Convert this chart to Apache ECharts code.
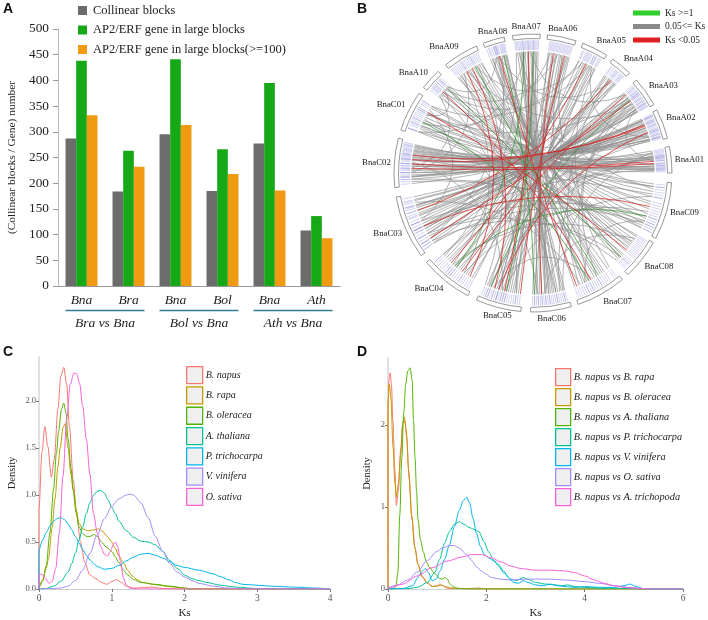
<!DOCTYPE html>
<html>
<head>
<meta charset="utf-8">
<script src="https://cdn.jsdelivr.net/npm/echarts@6.0.0/dist/echarts.min.js"></script>
<style>
  html, body { margin: 0; padding: 0; background: #fff; }
  #main { width: 708px; height: 620px; }
</style>
</head>
<body>
<div id="main"></div>
<script>
// ---------- panel A : collinear blocks ----------
var speciesCats = ['Bna', 'Bra', 'Bna', 'Bol', 'Bna', 'Ath'];
var compareGroups = ['Bra vs Bna', 'Bol vs Bna', 'Ath vs Bna'];
var collinearBlocks = [287, 184, 295, 185, 277, 108];
var geneLarge = [438, 263, 441, 266, 395, 136];
var geneLarge100 = [332, 232, 313, 218, 186, 93];

// ---------- panel B : circos (angles in degrees, counter-clockwise from 3 o'clock) ----------
var chrNames = ['BnaA01', 'BnaA02', 'BnaA03', 'BnaA04', 'BnaA05', 'BnaA06', 'BnaA07', 'BnaA08', 'BnaA09', 'BnaA10',
  'BnaC01', 'BnaC02', 'BnaC03', 'BnaC04', 'BnaC05', 'BnaC06', 'BnaC07', 'BnaC08', 'BnaC09'];
var chrStart = [0, 14.5, 29.5, 46, 58, 72, 87, 102, 114, 133, 145, 165.5, 190, 220, 246, 269, 289, 313, 332];
var chrEnd = [11, 27, 42, 55, 69, 84, 98.5, 111, 129, 142, 162, 186, 216.5, 242, 265, 286, 310, 330, 356];

// links: [chr index, position in chr (0-1), chr index, position in chr (0-1)]
var grayLinks = [
  [0,.1,10,.15],[0,.25,10,.3],[0,.4,10,.45],[0,.55,10,.6],[0,.7,10,.72],[0,.85,10,.88],[0,.3,11,.5],[0,.6,11,.55],
  [1,.05,11,.1],[1,.15,11,.2],[1,.25,11,.3],[1,.35,11,.38],[1,.45,11,.42],[1,.55,11,.5],[1,.6,11,.62],[1,.7,11,.7],
  [1,.8,11,.78],[1,.9,11,.85],[1,.95,11,.95],
  [2,.05,12,.1],[2,.15,12,.2],[2,.25,12,.25],[2,.35,12,.35],[2,.45,12,.4],[2,.55,12,.5],[2,.6,12,.6],[2,.7,12,.65],
  [2,.8,12,.75],[2,.9,12,.85],[2,.95,12,.95],[2,.5,16,.4],[2,.75,16,.6],
  [3,.1,13,.1],[3,.25,13,.3],[3,.4,13,.45],[3,.55,13,.6],[3,.7,13,.75],[3,.85,13,.9],
  [4,.1,14,.1],[4,.2,14,.2],[4,.35,14,.3],[4,.5,14,.45],[4,.6,14,.6],[4,.75,13,.2],[4,.9,13,.5],
  [5,.1,14,.7],[5,.2,14,.8],[5,.3,14,.9],[5,.45,15,.05],[5,.6,15,.15],[5,.75,15,.25],[5,.9,15,.3],
  [6,.05,15,.4],[6,.15,15,.45],[6,.25,15,.5],[6,.35,15,.55],[6,.5,15,.6],[6,.6,15,.7],[6,.7,15,.75],[6,.8,15,.85],[6,.9,15,.95],
  [7,.1,16,.7],[7,.25,16,.8],[7,.4,16,.9],[7,.55,17,.1],[7,.7,17,.25],[7,.85,17,.4],[7,.95,17,.5],
  [8,.05,17,.6],[8,.15,17,.7],[8,.25,17,.8],[8,.35,17,.9],[8,.45,18,.05],[8,.55,18,.15],[8,.65,18,.25],[8,.75,18,.35],
  [8,.85,18,.45],[8,.95,18,.55],
  [9,.1,18,.6],[9,.3,18,.7],[9,.5,18,.8],[9,.7,18,.9],[9,.9,18,.95],
  [11,.05,0,.05],[11,.15,0,.2],[11,.25,1,.3],[11,.35,0,.8],[11,.65,1,.5],[11,.75,0,.95],[11,.9,18,.1],
  [12,.3,1,.4],[12,.45,2,.3],[12,.55,1,.75],[12,.7,2,.7],[12,.8,18,.3],[12,.9,17,.2],
  [0,.5,2,.2],[1,.2,4,.3],[2,.4,8,.6],[3,.3,7,.5],[4,.7,8,.3],[5,.5,9,.4],[6,.4,2,.85],[7,.6,9,.2],[8,.1,0,.35],[9,.6,4,.4],
  [10,.2,12,.5],[10,.5,15,.2],[10,.8,17,.3],[11,.45,14,.5],[12,.15,16,.2],[13,.4,17,.75],[13,.7,18,.4],[14,.25,16,.5],
  [14,.55,18,.7],[15,.35,17,.85],[16,.3,18,.2],
  [0,.65,13,.55],[1,.75,14,.35],[2,.2,15,.8],[3,.6,16,.15],[4,.4,12,.6],[5,.15,13,.8],[6,.2,14,.15],[6,.75,16,.3],
  [7,.3,12,.85],[8,.7,11,.7],[9,.4,10,.4],[9,.8,11,.6],[5,.8,10,.65],[6,.55,10,.9],[4,.85,10,.1],[3,.15,11,.8],
  [2,.65,10,.35],[1,.85,12,.2],[0,.9,15,.9],[8,.5,16,.55],[7,.8,15,.65],[5,.35,17,.15],[6,.85,18,.85],[4,.15,16,.95],
  [11,.08,1,.12],[11,.12,0,.15],[11,.18,1,.22],[11,.22,0,.3],[11,.28,1,.35],[11,.33,0,.6],[11,.55,1,.58],[11,.7,0,.7],
  [11,.8,1,.88],[11,.85,18,.05],
  [12,.05,2,.08],[12,.12,1,.9],[12,.22,2,.18],[12,.38,2,.42],[12,.5,18,.2],[12,.65,2,.62],[12,.75,17,.05],[12,.95,18,.15],
  [10,.1,0,.2],[10,.35,1,.1],[10,.55,0,.65],[10,.7,18,.9],[10,.9,17,.55],
  [6,.1,14,.4],[6,.3,16,.05],[6,.45,15,.2],[6,.65,14,.85],[5,.05,15,.5],[5,.4,16,.25],[5,.55,14,.65],[5,.65,13,.95],
  [7,.05,15,.9],[7,.15,16,.35],[7,.5,13,.4],[8,.2,14,.05],[8,.8,13,.7],[9,.25,15,.7],[9,.75,14,.85],
  [3,.2,14,.75],[3,.5,12,.9],[4,.3,15,.4],[4,.65,12,.75],[2,.1,13,.25],[2,.3,14,.5],[1,.1,13,.1],[0,.15,12,.6],[0,.75,14,.15],
  [16,.6,8,.9],[16,.75,7,.6],[17,.65,9,.65],[17,.95,10,.75],[18,.75,11,.4],[15,.1,3,.8],[14,.4,5,.85],[13,.15,6,.95]
];
var redLinks = [
  [11,.3,1,.65],[11,.4,1,.7],[11,.5,0,.5],[11,.6,0,.4],[6,.45,14,.55],[8,.4,14,.3],[8,.6,13,.85],[12,.85,2,.55],
  [2,.85,13,.65],[4,.55,13,.35],[5,.7,15,.3],[9,.55,16,.45],[7,.45,16,.1],[3,.45,12,.3],[10,.3,17,.45],[5,.25,14,.95],
  [12,.6,18,.5],[1,.4,14,.4]
];
var greenLinks = [
  [6,.25,14,.6],[9,.2,17,.2],[8,.3,16,.65],[7,.2,15,.1],[10,.6,16,.4],[6,.65,13,.5],[2,.6,14,.2],[18,.3,13,.45]
];
var ksClasses = ['Ks >=1', '0.05<= Ks <1', 'Ks <0.05'];

// ---------- panel C : Ks density per species ----------
var speciesC = ['B. napus', 'B. rapa', 'B. oleracea', 'A. thaliana', 'P. trichocarpa', 'V. vinifera', 'O. sativa'];
var napusC = [[0,0],[0,0.85],[0.04,1.45],[0.08,1.73],[0.12,1.52],[0.17,1.19],[0.21,1.38],[0.26,1.92],[0.3,2.26],[0.34,2.36],
  [0.38,2.18],[0.42,1.72],[0.47,1.16],[0.52,0.78],[0.57,0.5],[0.63,0.28],[0.7,0.15],[0.78,0.11],[0.86,0.07],[0.93,0.05],
  [1.0,0.08],[1.07,0.1],[1.13,0.07],[1.2,0.03],[1.3,0.01],[1.45,0.015],[1.55,0.02],[1.7,0.005],[2.0,0],[4,0]];
var rapaC = [[0,0],[0,0.03],[0.05,0.1],[0.1,0.22],[0.13,0.32],[0.18,0.65],[0.22,0.96],[0.26,1.3],[0.29,1.5],[0.33,1.72],
  [0.36,1.76],[0.4,1.5],[0.44,1.22],[0.47,1.06],[0.51,0.85],[0.55,0.7],[0.6,0.64],[0.68,0.62],[0.76,0.63],[0.82,0.64],
  [0.88,0.61],[0.94,0.56],[1.0,0.5],[1.05,0.43],[1.1,0.35],[1.16,0.28],[1.22,0.2],[1.28,0.14],[1.35,0.1],[1.42,0.07],
  [1.6,0.045],[1.8,0.025],[2.0,0.01],[2.1,0],[4,0]];
var oleraceaC = [[0,0],[0,0.02],[0.05,0.08],[0.1,0.25],[0.15,0.6],[0.2,1.06],[0.24,1.45],[0.27,1.68],[0.31,1.92],[0.34,1.98],
  [0.37,1.88],[0.4,1.6],[0.44,1.28],[0.47,1.05],[0.51,0.82],[0.55,0.66],[0.6,0.59],[0.65,0.56],[0.7,0.56],[0.76,0.58],
  [0.8,0.56],[0.86,0.5],[0.92,0.45],[1.0,0.4],[1.05,0.34],[1.1,0.28],[1.16,0.2],[1.22,0.15],[1.3,0.1],[1.4,0.07],
  [1.6,0.05],[1.8,0.03],[2.0,0.01],[2.1,0],[4,0]];
var thalianaC = [[0,0],[0.1,0.005],[0.2,0.03],[0.3,0.08],[0.4,0.18],[0.45,0.27],[0.5,0.38],[0.55,0.52],[0.6,0.66],[0.65,0.8],
  [0.7,0.92],[0.75,1.0],[0.8,1.04],[0.85,1.05],[0.9,1.02],[0.95,0.95],[1.0,0.87],[1.05,0.8],[1.1,0.72],[1.2,0.62],
  [1.3,0.55],[1.4,0.51],[1.5,0.5],[1.6,0.47],[1.7,0.4],[1.8,0.3],[1.9,0.22],[2.0,0.15],[2.1,0.11],[2.2,0.09],[2.3,0.07],
  [2.5,0.04],[2.7,0.02],[3.0,0.005],[3.3,0],[4,0]];
var trichoC = [[0,0],[0,0.42],[0.05,0.52],[0.1,0.6],[0.15,0.67],[0.2,0.72],[0.25,0.75],[0.3,0.76],[0.35,0.74],[0.4,0.69],
  [0.45,0.63],[0.5,0.56],[0.55,0.49],[0.6,0.42],[0.65,0.36],[0.7,0.31],[0.75,0.27],[0.8,0.24],[0.9,0.21],[1.0,0.22],
  [1.1,0.25],[1.2,0.3],[1.3,0.34],[1.4,0.37],[1.5,0.38],[1.6,0.36],[1.7,0.33],[1.8,0.29],[1.9,0.25],[2.0,0.23],[2.2,0.2],
  [2.4,0.16],[2.5,0.13],[2.6,0.1],[2.7,0.07],[2.8,0.05],[3.0,0.04],[3.2,0.03],[3.5,0.02],[3.8,0.01],[4,0]];
var viniferaC = [[0,0],[0.2,0.005],[0.3,0.01],[0.4,0.03],[0.5,0.09],[0.6,0.2],[0.7,0.38],[0.8,0.58],[0.9,0.75],[1.0,0.88],
  [1.1,0.96],[1.2,1.0],[1.25,1.01],[1.3,1.0],[1.4,0.92],[1.5,0.76],[1.6,0.56],[1.7,0.4],[1.8,0.27],[1.9,0.18],[2.0,0.13],
  [2.1,0.09],[2.2,0.06],[2.4,0.03],[2.6,0.01],[2.8,0],[4,0]];
var sativaC = [[0,0],[0,0.15],[0.04,0.16],[0.08,0.12],[0.14,0.06],[0.18,0.08],[0.23,0.22],[0.28,0.6],[0.33,1.2],[0.38,1.8],
  [0.43,2.18],[0.48,2.3],[0.52,2.29],[0.56,2.18],[0.6,1.95],[0.65,1.6],[0.7,1.22],[0.75,0.8],[0.8,0.6],[0.85,0.45],
  [0.9,0.37],[0.94,0.35],[0.98,0.4],[1.02,0.47],[1.05,0.5],[1.08,0.45],[1.12,0.3],[1.16,0.12],[1.2,0.04],[1.25,0.01],
  [1.35,0],[4,0]];

// ---------- panel D : Ks density of orthologous pairs ----------
var pairsD = ['B. napus vs B. rapa', 'B. napus vs B. oleracea', 'B. napus vs A. thaliana', 'B. napus vs P. trichocarpa',
  'B. napus vs V. vinifera', 'B. napus vs O. sativa', 'B. napus vs A. trichopoda'];
var rapaD = [[0,0],[0,2.2],[0.02,2.55],[0.045,2.64],[0.07,2.5],[0.1,2.05],[0.14,1.45],[0.17,1.02],[0.21,1.2],[0.26,1.72],
  [0.3,2.02],[0.34,2.06],[0.38,1.85],[0.43,1.35],[0.49,0.85],[0.55,0.5],[0.61,0.3],[0.69,0.16],[0.8,0.08],[0.9,0.03],
  [1.0,0.04],[1.06,0.06],[1.12,0.04],[1.2,0.01],[1.4,0.005],[1.6,0.005],[1.85,0.012],[1.95,0.003],[2.1,0],[6,0]];
var oleraceaD = [[0,0],[0,2.3],[0.03,2.5],[0.06,2.32],[0.1,1.75],[0.14,1.3],[0.17,1.12],[0.21,1.28],[0.26,1.65],[0.3,2.02],
  [0.33,2.1],[0.37,1.95],[0.42,1.45],[0.48,0.9],[0.54,0.52],[0.61,0.3],[0.69,0.15],[0.8,0.07],[0.9,0.03],[1.0,0.035],
  [1.08,0.05],[1.15,0.03],[1.3,0.01],[1.5,0.005],[1.8,0],[6,0]];
var thalianaD = [[0,0],[0.1,0.005],[0.16,0.03],[0.2,0.2],[0.24,0.9],[0.28,1.6],[0.32,2.15],[0.36,2.5],[0.4,2.66],[0.45,2.7],
  [0.49,2.55],[0.52,2.05],[0.55,1.6],[0.58,1.2],[0.61,0.85],[0.66,0.6],[0.72,0.45],[0.78,0.33],[0.85,0.26],[0.95,0.19],
  [1.05,0.13],[1.1,0.12],[1.16,0.14],[1.21,0.12],[1.26,0.06],[1.32,0.03],[1.4,0.01],[1.6,0],[6,0]];
var trichoD = [[0,0],[0.4,0.005],[0.6,0.02],[0.8,0.08],[0.95,0.2],[1.05,0.36],[1.15,0.56],[1.25,0.7],[1.35,0.79],[1.45,0.82],
  [1.55,0.79],[1.65,0.75],[1.75,0.73],[1.85,0.7],[1.95,0.58],[2.05,0.45],[2.15,0.35],[2.25,0.28],[2.35,0.2],[2.5,0.12],
  [2.6,0.1],[2.75,0.14],[2.85,0.12],[3.0,0.08],[3.2,0.06],[3.4,0.05],[3.55,0.04],[3.65,0.05],[3.8,0.03],[4.0,0.02],
  [4.3,0.01],[4.6,0.01],[5.0,0.003],[5.2,0],[6,0]];
var viniferaD = [[0,0],[0.3,0.005],[0.5,0.04],[0.62,0.15],[0.7,0.22],[0.76,0.25],[0.82,0.2],[0.9,0.1],[0.98,0.12],[1.06,0.22],
  [1.15,0.36],[1.25,0.54],[1.35,0.76],[1.45,0.96],[1.53,1.08],[1.6,1.12],[1.66,1.05],[1.73,0.86],[1.8,0.68],[1.88,0.52],
  [1.96,0.42],[2.05,0.38],[2.15,0.34],[2.25,0.3],[2.35,0.22],[2.45,0.14],[2.55,0.08],[2.65,0.07],[2.75,0.1],[2.85,0.08],
  [3.0,0.05],[3.15,0.04],[3.3,0.06],[3.45,0.04],[3.6,0.03],[3.8,0.02],[4.0,0.03],[4.3,0.02],[4.6,0.02],[4.8,0.04],
  [4.92,0.06],[5.05,0.03],[5.2,0.005],[5.4,0],[6,0]];
var sativaD = [[0,0],[0,0.02],[0.2,0.05],[0.4,0.11],[0.6,0.21],[0.8,0.35],[1.0,0.46],[1.1,0.5],[1.25,0.53],[1.35,0.53],
  [1.45,0.5],[1.6,0.42],[1.7,0.35],[1.8,0.27],[1.9,0.22],[2.0,0.18],[2.1,0.14],[2.3,0.12],[2.5,0.11],[2.8,0.12],[3.0,0.12],
  [3.3,0.12],[3.6,0.11],[4.0,0.09],[4.3,0.07],[4.6,0.04],[4.9,0.02],[5.2,0.005],[5.4,0],[6,0]];
var trichopodaD = [[0,0],[0,0.01],[0.3,0.06],[0.6,0.16],[0.9,0.26],[1.2,0.34],[1.5,0.39],[1.7,0.42],[1.9,0.42],[2.1,0.38],
  [2.3,0.33],[2.5,0.28],[2.7,0.25],[3.0,0.23],[3.3,0.23],[3.6,0.22],[3.8,0.2],[4.0,0.16],[4.2,0.11],[4.4,0.07],[4.6,0.04],
  [4.8,0.02],[5.0,0.01],[5.2,0.003],[5.4,0],[6,0]];

var hue7 = ['#F8766D', '#C49A00', '#53B400', '#00C094', '#00B6EB', '#A58AFF', '#FB61D7'];
var serif = "'Liberation Serif', 'DejaVu Serif', serif";
var sans = "'Liberation Sans', Arial, sans-serif";

var chart = echarts.init(document.getElementById('main'), null, { renderer: 'canvas' });

// position of a gene on the circle, in angle-axis units
function geneAngle(c, f) {
  return chrStart[c] + f * (chrEnd[c] - chrStart[c]);
}
function toAngles(list) {
  return list.map(function (l) { return [geneAngle(l[0], l[1]), geneAngle(l[2], l[3])]; });
}

var LINK_R = 0.875;
var LABEL_R = 1.025;

function screenAngle(api, cs, a) {
  var p = api.coord([1, a]);
  return Math.atan2(p[1] - cs.cy, p[0] - cs.cx);
}

function renderChrom(params, api) {
  var cs = params.coordSys;
  var s = api.value(0), e = api.value(1);
  var a1 = screenAngle(api, cs, s), a2 = screenAngle(api, cs, e);
  if (a1 < a2) a1 += Math.PI * 2;
  var mid = (s + e) / 2;
  var p = api.coord([LABEL_R, mid]);
  var ux = (p[0] - cs.cx) / (cs.r * LABEL_R), uy = (p[1] - cs.cy) / (cs.r * LABEL_R);
  var align = ux > 0.3 ? 'left' : (ux < -0.3 ? 'right' : 'center');
  var valign = uy < -0.3 ? 'bottom' : (uy > 0.3 ? 'top' : 'middle');
  return {
    type: 'group',
    children: [{
      type: 'sector',
      shape: { cx: cs.cx, cy: cs.cy, r0: cs.r - 4.5, r: cs.r, startAngle: a2, endAngle: a1, clockwise: true },
      style: { fill: '#fff', stroke: '#7d7d7d', lineWidth: 0.8 }
    }, {
      type: 'text',
      style: {
        text: chrNames[params.dataIndex], x: p[0], y: p[1], fill: '#222',
        fontSize: 8.8, fontFamily: serif, align: align, verticalAlign: valign
      }
    }]
  };
}

function geneTick(api, a) {
  var p = api.coord([0.885, a]), q = api.coord([0.955, a]);
  return {
    type: 'line',
    shape: { x1: p[0], y1: p[1], x2: q[0], y2: q[1] },
    style: { stroke: '#6a6ad0', lineWidth: 0.5, opacity: 0.6 }
  };
}

function linkRenderer(color, width) {
  return function (params, api) {
    var a1 = api.value(0), a2 = api.value(1);
    var p1 = api.coord([LINK_R, a1]), p2 = api.coord([LINK_R, a2]);
    var d = Math.abs(a1 - a2), mid = (a1 + a2) / 2;
    if (d > 180) { d = 360 - d; mid += 180; }
    var crest = 0.9 * Math.pow(1 - d / 180, 2) * LINK_R;
    var cp = api.coord([crest, mid]);
    return {
      type: 'group',
      children: [{
        type: 'bezierCurve',
        shape: { x1: p1[0], y1: p1[1], x2: p2[0], y2: p2[1], cpx1: cp[0], cpy1: cp[1] },
        style: { stroke: color, lineWidth: width, fill: null, opacity: 0.9 }
      }, geneTick(api, a1), geneTick(api, a2)]
    };
  };
}

function densitySeries(name, data, color, xi, yi) {
  return {
    name: name, type: 'line', xAxisIndex: xi, yAxisIndex: yi, data: data,
    showSymbol: false, smooth: 0.3, smoothMonotone: 'x', color: color,
    lineStyle: { width: 1, color: color }, z: 3
  };
}

function boxLegend(names, left, top, w, h, gap, fontSize) {
  return {
    orient: 'vertical', left: left, top: top, icon: 'rect', itemWidth: w, itemHeight: h, itemGap: gap,
    padding: 0, selectedMode: false,
    textStyle: { fontFamily: serif, fontStyle: 'italic', fontSize: fontSize, color: '#222', padding: [0, 0, 0, -2] },
    data: names.map(function (n, i) {
      return { name: n, itemStyle: { color: '#efefef', borderColor: hue7[i], borderWidth: 1.3 } };
    })
  };
}

var densAxisX = function (gi, max, interval) {
  return {
    gridIndex: gi, type: 'value', min: 0, max: max, interval: interval,
    name: 'Ks', nameLocation: 'middle', nameGap: 19,
    nameTextStyle: { fontFamily: serif, fontSize: 11, color: '#222' },
    axisLine: { lineStyle: { color: '#cfcfcf' } },
    axisTick: { length: 3, lineStyle: { color: '#777' } },
    axisLabel: { fontFamily: serif, fontSize: 9.5, color: '#555', margin: 4 },
    splitLine: { show: false }
  };
};
var densAxisY = function (gi, max, ticks, gap, digits) {
  return {
    gridIndex: gi, type: 'value', min: 0, max: max,
    name: 'Density', nameLocation: 'middle', nameGap: gap, nameRotate: 90,
    nameTextStyle: { fontFamily: serif, fontSize: 10.5, color: '#222' },
    axisLine: { show: true, lineStyle: { color: '#d6d6d6', width: 1.5 } },
    axisTick: { show: true, length: 3, lineStyle: { color: '#777' }, customValues: ticks },
    axisLabel: {
      fontFamily: serif, fontSize: 8.5, color: '#555', margin: 3, customValues: ticks,
      formatter: function (v) { return v.toFixed(digits); }
    },
    splitLine: { show: false }
  };
};

var option = {
  animation: false,
  textStyle: { fontFamily: serif },
  title: [
    { text: 'A', left: 3, top: 2, padding: 0, textStyle: { fontFamily: sans, fontWeight: 'bold', fontSize: 14, color: '#111' } },
    { text: 'B', left: 357, top: 2, padding: 0, textStyle: { fontFamily: sans, fontWeight: 'bold', fontSize: 14, color: '#111' } },
    { text: 'C', left: 3, top: 345, padding: 0, textStyle: { fontFamily: sans, fontWeight: 'bold', fontSize: 14, color: '#111' } },
    { text: 'D', left: 357, top: 345, padding: 0, textStyle: { fontFamily: sans, fontWeight: 'bold', fontSize: 14, color: '#111' } }
  ],
  legend: [
    {
      orient: 'vertical', left: 78, top: 4, icon: 'rect', itemWidth: 9, itemHeight: 9, itemGap: 6.5,
      padding: 0, selectedMode: false,
      textStyle: { fontFamily: serif, fontSize: 12.5, color: '#222', padding: [0, 0, 0, 1] },
      data: ['Collinear blocks', 'AP2/ERF gene in large blocks', 'AP2/ERF gene in large blocks(>=100)']
    },
    {
      orient: 'vertical', left: 633, top: 8, icon: 'rect', itemWidth: 27, itemHeight: 5, itemGap: 3.5,
      padding: 0, selectedMode: false,
      textStyle: { fontFamily: serif, fontSize: 9.5, color: '#222' },
      data: [
        { name: ksClasses[0], itemStyle: { color: '#2fcf2f' } },
        { name: ksClasses[1], itemStyle: { color: '#8a8a8a' } },
        { name: ksClasses[2], itemStyle: { color: '#e02020' } }
      ]
    },
    boxLegend(speciesC, 186, 366, 16, 17, 2, 10),
    boxLegend(pairsD, 555, 368, 15, 17, 1.7, 10.3)
  ],
  grid: [
    { left: 58, top: 29, width: 282, height: 257 },
    { left: 39, top: 357, width: 291, height: 233 },
    { left: 388, top: 358, width: 295, height: 233 }
  ],
  polar: { center: [533, 173], radius: [0, 139] },
  angleAxis: { type: 'value', min: 0, max: 360, startAngle: 0, clockwise: false, show: false },
  radiusAxis: { type: 'value', min: 0, max: 1, show: false },
  xAxis: [
    {
      gridIndex: 0, type: 'category', data: speciesCats,
      axisLine: { lineStyle: { color: '#999' } },
      axisTick: { length: 5, lineStyle: { color: '#999' } },
      axisLabel: { fontFamily: serif, fontStyle: 'italic', fontSize: 13.5, color: '#222', margin: 7 }
    },
    {
      gridIndex: 0, type: 'category', data: compareGroups, position: 'bottom', offset: 22,
      axisLine: { show: false }, axisTick: { show: false },
      axisLabel: { fontFamily: serif, fontStyle: 'italic', fontSize: 13.5, color: '#222', margin: 8 }
    },
    densAxisX(1, 4, 1),
    densAxisX(2, 6, 2)
  ],
  yAxis: [
    {
      gridIndex: 0, type: 'value', min: 0, max: 500, interval: 50,
      name: '(Collinear blocks / Gene) number', nameLocation: 'middle', nameGap: 40,
      nameTextStyle: { fontFamily: serif, fontSize: 11.4, color: '#222' },
      axisLine: { show: true, lineStyle: { color: '#bbb' } },
      axisTick: { show: true, length: 5, lineStyle: { color: '#999' } },
      axisLabel: { fontFamily: serif, fontSize: 13.3, color: '#222', margin: 9 },
      splitLine: { show: false }
    },
    densAxisY(1, 2.47, [0, 0.5, 1, 1.5, 2], 21, 1),
    densAxisY(2, 2.82, [0, 1, 2], 15, 0)
  ],
  series: [
    { name: 'Collinear blocks', type: 'bar', xAxisIndex: 0, yAxisIndex: 0, data: collinearBlocks,
      color: '#6c6c6c', barGap: '0%', barCategoryGap: '32%' },
    { name: 'AP2/ERF gene in large blocks', type: 'bar', xAxisIndex: 0, yAxisIndex: 0, data: geneLarge,
      color: '#16a816', barGap: '0%', barCategoryGap: '32%' },
    { name: 'AP2/ERF gene in large blocks(>=100)', type: 'bar', xAxisIndex: 0, yAxisIndex: 0, data: geneLarge100,
      color: '#f09a12', barGap: '0%', barCategoryGap: '32%' },
    {
      type: 'custom', xAxisIndex: 0, yAxisIndex: 0, silent: true,
      data: compareGroups.map(function (g, i) { return [i, 0]; }),
      renderItem: function (params, api) {
        var i = api.value(0);
        var a = api.coord([2 * i, 0]), b = api.coord([2 * i + 1, 0]);
        var bw = api.size([1, 0])[0];
        var y = a[1] + 24.5;
        return {
          type: 'line',
          shape: { x1: a[0] - bw * 0.34, y1: y, x2: b[0] + bw * 0.34, y2: y },
          style: { stroke: '#2e7f8e', lineWidth: 1.5 }
        };
      }
    },
    {
      type: 'custom', coordinateSystem: 'polar', polarIndex: 0, silent: true, z: 2,
      data: chrNames.map(function (n, i) { return [chrStart[i], chrEnd[i]]; }),
      renderItem: renderChrom
    },
    {
      name: ksClasses[1], type: 'custom', coordinateSystem: 'polar', polarIndex: 0, silent: true, z: 3,
      itemStyle: { color: '#8a8a8a' }, data: toAngles(grayLinks), renderItem: linkRenderer('#8e8e8e', 0.75)
    },
    {
      name: ksClasses[0], type: 'custom', coordinateSystem: 'polar', polarIndex: 0, silent: true, z: 4,
      itemStyle: { color: '#2fcf2f' }, data: toAngles(greenLinks), renderItem: linkRenderer('#2f8f2f', 0.8)
    },
    {
      name: ksClasses[2], type: 'custom', coordinateSystem: 'polar', polarIndex: 0, silent: true, z: 5,
      itemStyle: { color: '#e02020' }, data: toAngles(redLinks), renderItem: linkRenderer('#d42424', 0.85)
    },
    densitySeries(speciesC[0], napusC, hue7[0], 2, 1),
    densitySeries(speciesC[1], rapaC, hue7[1], 2, 1),
    densitySeries(speciesC[2], oleraceaC, hue7[2], 2, 1),
    densitySeries(speciesC[3], thalianaC, hue7[3], 2, 1),
    densitySeries(speciesC[4], trichoC, hue7[4], 2, 1),
    densitySeries(speciesC[5], viniferaC, hue7[5], 2, 1),
    densitySeries(speciesC[6], sativaC, hue7[6], 2, 1),
    densitySeries(pairsD[0], rapaD, hue7[0], 3, 2),
    densitySeries(pairsD[1], oleraceaD, hue7[1], 3, 2),
    densitySeries(pairsD[2], thalianaD, hue7[2], 3, 2),
    densitySeries(pairsD[3], trichoD, hue7[3], 3, 2),
    densitySeries(pairsD[4], viniferaD, hue7[4], 3, 2),
    densitySeries(pairsD[5], sativaD, hue7[5], 3, 2),
    densitySeries(pairsD[6], trichopodaD, hue7[6], 3, 2)
  ]
};

chart.setOption(option);
</script>
</body>
</html>
